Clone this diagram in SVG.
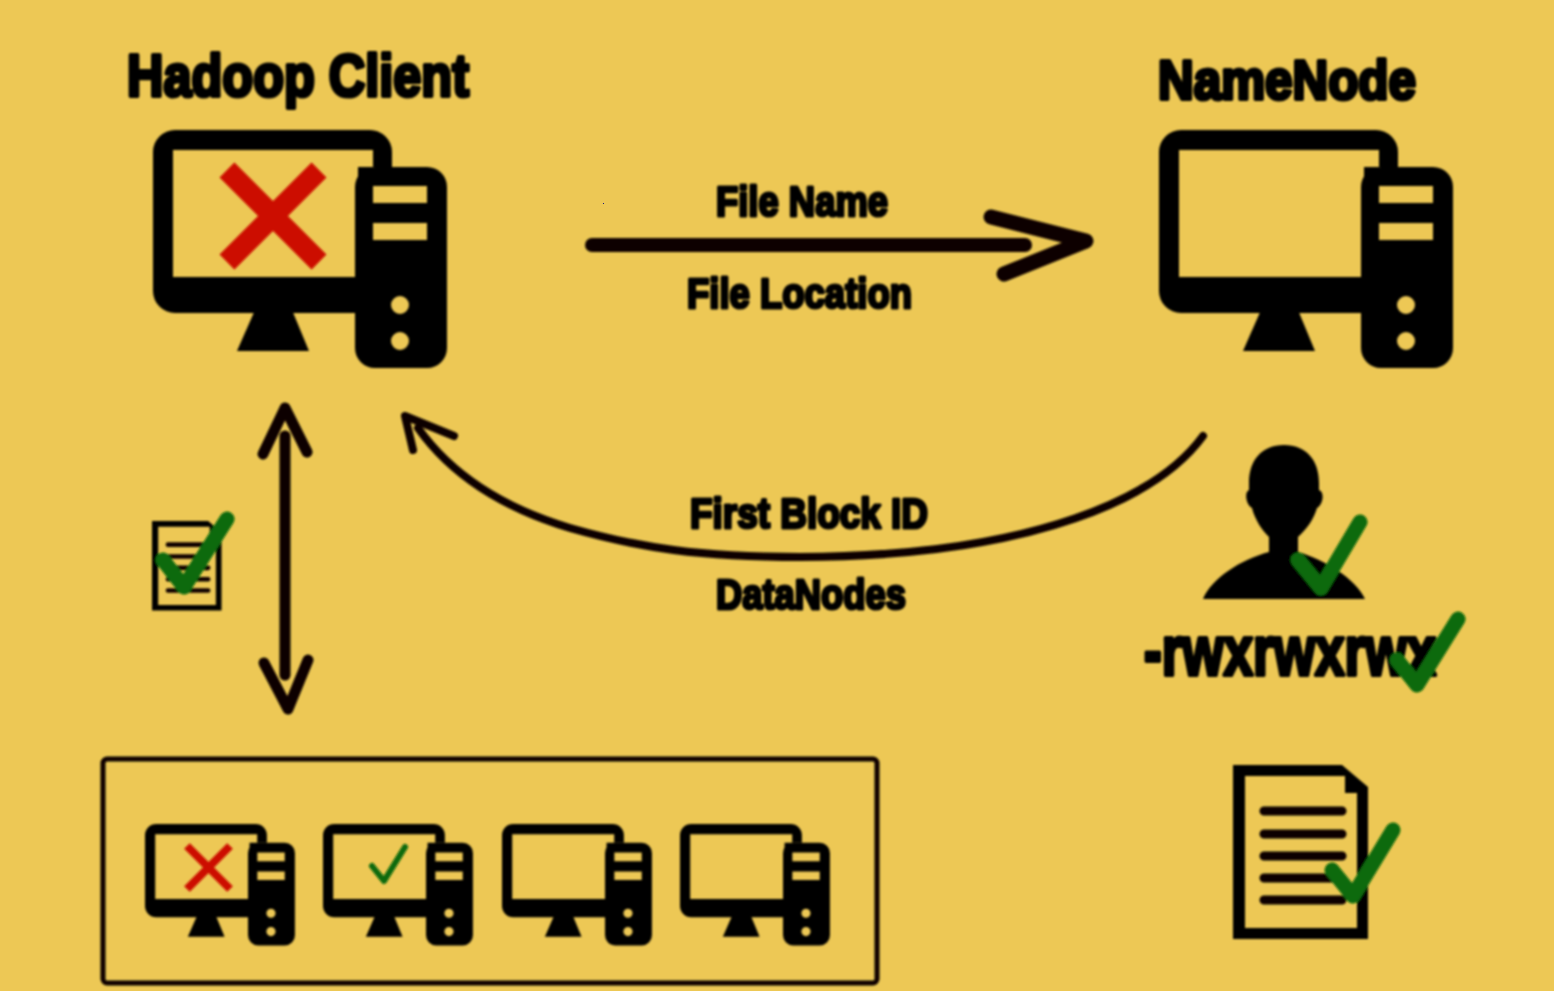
<svg xmlns="http://www.w3.org/2000/svg" width="1554" height="991" viewBox="0 0 1554 991">
<style>
.lbl{font-family:"Liberation Sans",Arial,sans-serif;font-weight:700;fill:#050303;stroke:#050303;stroke-linejoin:round;stroke-width:3.2px}
.big{stroke-width:4.2px}
.ink{fill:#030202}
.line{fill:none;stroke:#0d0505;stroke-linecap:round;stroke-linejoin:round}
.chk{fill:none;stroke:#0b6a0e;stroke-linecap:round;stroke-linejoin:round}
.x{fill:none;stroke:#cc0b02}
</style>
<defs>
<filter id="soft" x="-5%" y="-5%" width="110%" height="110%"><feGaussianBlur stdDeviation="0.8"/></filter>
<g id="pc">
<path class="ink" fill-rule="evenodd" d="M22 0H217a22 22 0 0 1 22 22V37H205V183H22a22 22 0 0 1-22-22V22A22 22 0 0 1 22 0ZM20 20V147H220V20Z"/>
<path class="ink" d="M102 180L84 221H156L139 180Z"/>
<path class="ink" fill-rule="evenodd" d="M222 37H274a20 20 0 0 1 20 20V218a20 20 0 0 1-20 20H222a20 20 0 0 1-20-20V57a20 20 0 0 1 20-20ZM220 56V73H274V56ZM220 93V110H274V93ZM238 175a9 9 0 1 0 18 0a9 9 0 1 0-18 0ZM238 211a9 9 0 1 0 18 0a9 9 0 1 0-18 0Z"/>
</g>
<g id="doc">
<path class="ink" fill-rule="evenodd" d="M0 0H109L135 22V174H0ZM12 11V163H124V28H112V11Z"/>
<g class="line" stroke-width="9"><path d="M31 46H109M31 69H109M31 91H109M31 113H109M31 135H109"/></g>
</g>
</defs>
<rect width="1554" height="991" fill="#edc855"/>
<rect x="603" y="203" width="1" height="1" fill="#1a1a80"/>
<g filter="url(#soft)">
<g id="connectors">
<g id="edge-file-name"><path class="line" stroke-width="14" d="M592 245H1025"/><path class="line" stroke-width="15" d="M991 217L1086 241L1004 274"/></g>
<g id="edge-first-block"><path class="line" stroke-width="8" d="M1203 436C1160 495 1040 556 800 557C700 557 640 548 570 528C510 510 455 480 418 428"/><path class="line" stroke-width="8" d="M413 450L405 416L454 436"/></g>
<g id="edge-datanodes"><path class="line" stroke-width="11" d="M285 436V675"/><path class="line" stroke-width="11" d="M263 454L285 408L307 452"/><path class="line" stroke-width="11" d="M264 663L288 709L308 660"/></g>
</g>
<g id="hadoop-client">
<text class="lbl big" x="127" y="96" font-size="60" textLength="342" lengthAdjust="spacingAndGlyphs">Hadoop Client</text>
<use href="#pc" transform="translate(153 130)"/>
<path class="x" stroke-width="21" d="M227 170L319 262M319 170L227 262"/>
</g>
<g id="namenode">
<text class="lbl big" x="1158" y="99" font-size="56" textLength="258" lengthAdjust="spacingAndGlyphs">NameNode</text>
<use href="#pc" transform="translate(1159 130)"/>
</g>
<g id="label-file-name"><text class="lbl" x="716" y="216" font-size="43" textLength="172" lengthAdjust="spacingAndGlyphs">File Name</text></g>
<g id="label-file-location"><text class="lbl" x="687" y="308" font-size="43" textLength="225" lengthAdjust="spacingAndGlyphs">File Location</text></g>
<g id="label-first-block"><text class="lbl" x="690" y="528" font-size="43" textLength="238" lengthAdjust="spacingAndGlyphs">First Block ID</text></g>
<g id="label-datanodes"><text class="lbl" x="716" y="609" font-size="43" textLength="190" lengthAdjust="spacingAndGlyphs">DataNodes</text></g>
<g id="small-doc">
<use href="#doc" transform="translate(152 521) scale(.515)"/>
<path class="chk" stroke-width="15" d="M163 560L184 587L227 519"/>
</g>
<g id="user">
<path class="ink" d="M1284 445C1262 445 1249 460 1249 483V490C1244 492 1246 505 1252 508C1255 520 1262 530 1269 537V552C1240 560 1212 578 1203 599H1365C1355 578 1325 560 1298 552V537C1308 528 1314 518 1317 508C1323 505 1325 492 1319 490V483C1319 460 1306 445 1284 445Z"/>
<path class="chk" stroke-width="15" d="M1298 560L1321 588L1360 522"/>
</g>
<g id="permissions">
<text class="lbl big" x="1144" y="675" font-size="70" textLength="292" lengthAdjust="spacingAndGlyphs">-rwxrwxrwx</text>
<path class="chk" stroke-width="15" d="M1397 660L1417 685L1458 619"/>
</g>
<g id="file-doc">
<use href="#doc" transform="translate(1233 765)"/>
<path class="chk" stroke-width="15" d="M1332 870L1353 896L1393 830"/>
</g>
<g id="datanodes-box">
<rect x="103" y="759" width="774" height="224" rx="4" fill="none" stroke="#0a0606" stroke-width="5"/>
<g id="dn1"><use href="#pc" transform="translate(145 824) scale(.51)"/><path class="x" stroke-width="8" d="M187 846L230 889M230 846L187 889"/></g>
<g id="dn2"><use href="#pc" transform="translate(323 824) scale(.51)"/><path class="chk" stroke-width="6" d="M372 866L384 881L405 847"/></g>
<g id="dn3"><use href="#pc" transform="translate(502 824) scale(.51)"/></g>
<g id="dn4"><use href="#pc" transform="translate(680 824) scale(.51)"/></g>
</g>
</g>
</svg>
